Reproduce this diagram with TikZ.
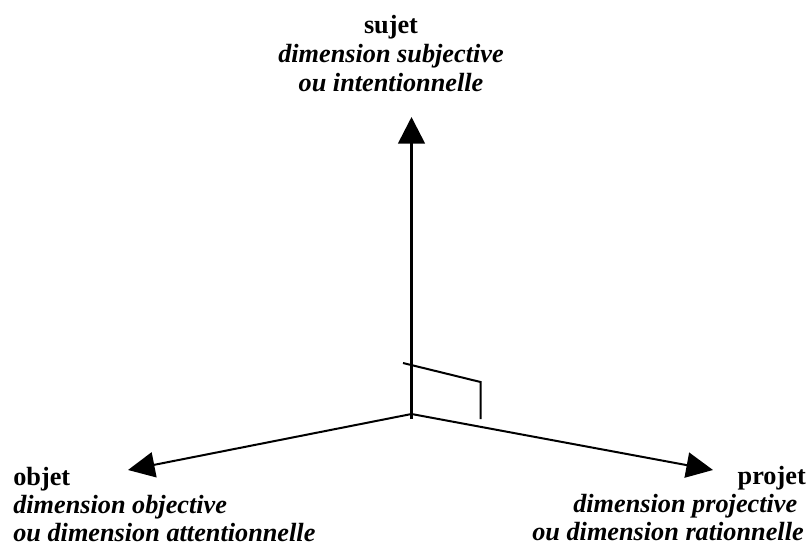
\documentclass[tikz,border=0pt]{standalone}
\usepackage{fontspec}
\setmainfont{Liberation Serif}
\usetikzlibrary{arrows.meta}
\begin{document}
\begin{tikzpicture}[x=0.75pt,y=-0.75pt,
  label/.style={inner sep=0pt,font=\fontsize{19.7}{21.5}\selectfont\bfseries},
  sublabel/.style={label,font=\fontsize{19.7}{21.5}\selectfont\bfseries\itshape},
  axis/.style={line width=1.5pt,-{Triangle[length=20pt,width=19pt]}},
  marker/.style={line width=1.5pt}]
\useasboundingbox (0,0) rectangle (810,545);

% origin and axis ends
\coordinate (O) at (411.5,414);
\coordinate (Obase) at (411.5,419);
\coordinate (up) at (411.5,117);
\coordinate (left) at (128,470);
\coordinate (right) at (713,470);

% right-angle mark
\coordinate (m1) at (403,363);
\coordinate (m2) at (480.5,382);
\coordinate (m3) at (480.5,419);
\draw[marker] (m1) -- (m2) -- (m3);

% axes
\draw[axis,line width=2pt,-{Triangle[length=20pt,width=20pt]}] (Obase) -- (up);
\draw[axis] (O) -- (left);
\draw[axis] (O) -- (right);

% subject
\node[label,anchor=base] (sujet) at (391,34) {sujet};
\node[sublabel,anchor=base] (sujet2) at (391,63) {dimension subjective};
\node[sublabel,anchor=base] (sujet3) at (391,92) {ou intentionnelle};

% object
\node[label,anchor=base west] (objet) at (13,485) {objet};
\node[sublabel,anchor=base west] (objet2) at (13,513) {dimension objective};
\node[sublabel,anchor=base west] (objet3) at (13,541) {ou dimension attentionnelle};

% project
\node[label,anchor=base east] (projet) at (806,484) {projet};
\node[sublabel,anchor=base east] (projet2) at (797.5,512) {dimension projective};
\node[sublabel,anchor=base east] (projet3) at (804,540) {ou dimension rationnelle};
\end{tikzpicture}
\end{document}
